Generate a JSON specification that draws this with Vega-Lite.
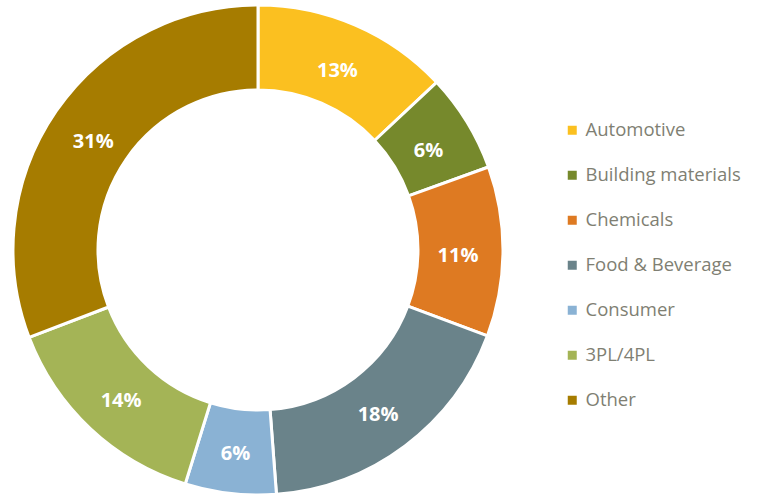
{
  "$schema": "https://vega.github.io/schema/vega-lite/v6.json",
  "width": 761,
  "height": 497,
  "padding": 0,
  "autosize": "none",
  "background": "white",
  "view": {"stroke": null},
  "data": {
    "values": [
      {"idx": 1, "sector": "Automotive", "value": 13.0, "label": "13%"},
      {"idx": 2, "sector": "Building materials", "value": 6.5, "label": "6%"},
      {"idx": 3, "sector": "Chemicals", "value": 11.2, "label": "11%"},
      {"idx": 4, "sector": "Food & Beverage", "value": 18.1, "label": "18%"},
      {"idx": 5, "sector": "Consumer", "value": 6.0, "label": "6%"},
      {"idx": 6, "sector": "3PL/4PL", "value": 14.4, "label": "14%"},
      {"idx": 7, "sector": "Other", "value": 30.8, "label": "31%"}
    ]
  },
  "encoding": {
    "theta": {"field": "value", "type": "quantitative", "stack": true},
    "order": {"field": "idx", "type": "quantitative"}
  },
  "layer": [
    {
      "mark": {"type": "arc", "innerRadius": 160, "outerRadius": 245, "stroke": "white", "strokeWidth": 3, "x": 258, "y": 250},
      "encoding": {
        "color": {
          "field": "sector",
          "type": "nominal",
          "sort": null,
          "scale": {
            "domain": ["Automotive", "Building materials", "Chemicals", "Food & Beverage", "Consumer", "3PL/4PL", "Other"],
            "range": ["#FBC020", "#76892C", "#DE7A22", "#6A838A", "#8AB2D4", "#A4B456", "#A67C00"]
          },
          "legend": {
            "title": null,
            "orient": "none",
            "legendX": 563,
            "legendY": 121,
            "symbolType": "square",
            "symbolSize": 81,
            "symbolStrokeWidth": 0,
            "labelFont": "Open Sans",
            "labelFontSize": 18.5,
            "labelColor": "#7f7f73",
            "labelOffset": 4,
            "rowPadding": 26,
            "labelLimit": 300
          }
        }
      }
    },
    {
      "mark": {"type": "text", "radius": 200, "x": 258, "y": 250, "dy": 5, "color": "white", "font": "Open Sans", "fontWeight": "bold", "fontSize": 20},
      "encoding": {
        "text": {"field": "label", "type": "nominal"}
      }
    }
  ]
}
